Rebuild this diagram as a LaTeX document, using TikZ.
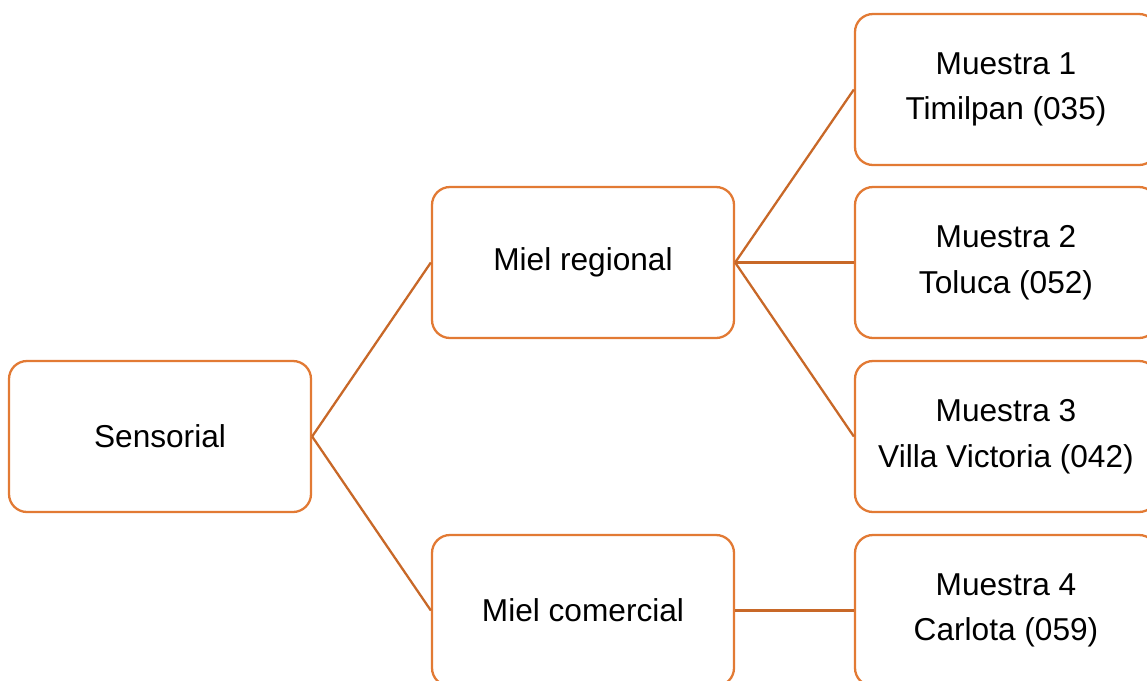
\documentclass[tikz,border=0pt]{standalone}
\usepackage{fontspec}
\setmainfont{Liberation Sans}
\usepackage{xcolor}
\definecolor{boxorange}{RGB}{226,122,52}
\definecolor{linkorange}{RGB}{200,104,40}
\tikzset{
  leaf/.style={draw=boxorange,line width=1.3pt,rounded corners=3.6mm,minimum width=6.04cm,minimum height=3.02cm,align=center,fill=white,font=\fontsize{18}{26}\selectfont,inner sep=2pt},
  link/.style={draw=linkorange,line width=1.3pt}
}
\begin{document}
\begin{tikzpicture}
\clip (0,0) rectangle (22.94,-13.62);
\useasboundingbox (0,0) rectangle (22.94,-13.62);
% left and middle column
\node[leaf] (sens) at (3.20,-8.73) {Sensorial};
\node[leaf] (reg) at (11.66,-5.25) {Miel regional};
\node[leaf] (com) at (11.66,-12.21) {Miel comercial};
% samples
\node[leaf] (m1) at (20.12,-1.79) {Muestra 1\\Timilpan (035)};
\node[leaf] (m2) at (20.12,-5.25) {Muestra 2\\Toluca (052)};
\node[leaf] (m3) at (20.12,-8.73) {Muestra 3\\Villa Victoria (042)};
\node[leaf] (m4) at (20.12,-12.21) {Muestra 4\\Carlota (059)};
\draw[link] (sens.east) -- (reg.west);
\draw[link] (sens.east) -- (com.west);
\draw[link] (reg.east) -- (m1.west);
\draw[link] (reg.east) -- (m2.west);
\draw[link] (reg.east) -- (m3.west);
\draw[link] (com.east) -- (m4.west);
\end{tikzpicture}
\end{document}
